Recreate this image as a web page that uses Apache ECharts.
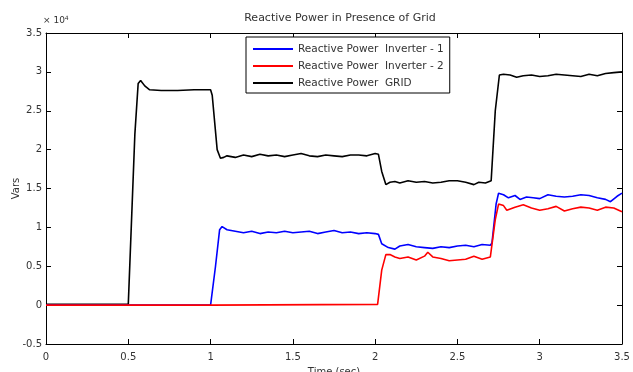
<!DOCTYPE html>
<html>
<head>
<meta charset="utf-8">
<script src="https://cdn.jsdelivr.net/npm/echarts@6/dist/echarts.min.js"></script>
<style>
  html, body { margin: 0; padding: 0; background: #fff; }
  #main { width: 633px; height: 372px; }
</style>
</head>
<body>
<div id="main"></div>
<script>
// values are in units of 10^4 Vars
var gridTime = [0, 0.1, 0.2, 0.3, 0.4, 0.5, 0.51, 0.54, 0.56, 0.575, 0.6, 0.63, 0.7, 0.8, 0.9, 1.0,
  1.01, 1.04, 1.06, 1.08, 1.1, 1.15, 1.2, 1.25, 1.3, 1.35, 1.4, 1.45, 1.5, 1.55, 1.6, 1.65, 1.7, 1.75,
  1.8, 1.85, 1.9, 1.95, 2.0, 2.02, 2.04, 2.065, 2.09, 2.12, 2.15, 2.2, 2.25, 2.3, 2.35, 2.4, 2.45, 2.5,
  2.55, 2.6, 2.63, 2.67, 2.705, 2.73, 2.755, 2.78, 2.82, 2.86, 2.9, 2.95, 3.0, 3.05, 3.1, 3.15, 3.2,
  3.25, 3.3, 3.35, 3.4, 3.45, 3.5];
var gridVars = [0.01, 0.01, 0.01, 0.01, 0.01, 0.01, 0.02, 2.2, 2.85, 2.89, 2.82, 2.77, 2.76, 2.76, 2.77, 2.77,
  2.7, 2.0, 1.89, 1.9, 1.92, 1.9, 1.93, 1.91, 1.94, 1.92, 1.93, 1.91, 1.93, 1.95, 1.92, 1.91, 1.93, 1.92,
  1.91, 1.93, 1.93, 1.92, 1.95, 1.94, 1.72, 1.55, 1.58, 1.59, 1.57, 1.6, 1.58, 1.59, 1.57, 1.58, 1.6, 1.6,
  1.58, 1.55, 1.58, 1.57, 1.6, 2.5, 2.96, 2.97, 2.96, 2.93, 2.95, 2.96, 2.94, 2.95, 2.97, 2.96, 2.95,
  2.94, 2.97, 2.95, 2.98, 2.99, 3.0];

var inv1Time = [0, 0.5, 1.0, 1.005, 1.03, 1.055, 1.07, 1.1, 1.15, 1.2, 1.25, 1.3, 1.35, 1.4, 1.45, 1.5,
  1.55, 1.6, 1.65, 1.7, 1.75, 1.8, 1.85, 1.9, 1.95, 2.0, 2.02, 2.04, 2.08, 2.12, 2.15, 2.2, 2.25, 2.3,
  2.35, 2.4, 2.45, 2.5, 2.55, 2.6, 2.65, 2.7, 2.71, 2.735, 2.75, 2.78, 2.81, 2.85, 2.88, 2.92, 2.96,
  3.0, 3.05, 3.1, 3.15, 3.2, 3.25, 3.3, 3.35, 3.4, 3.43, 3.47, 3.5];
var inv1Vars = [0, 0, 0, 0.01, 0.5, 0.97, 1.01, 0.97, 0.95, 0.93, 0.95, 0.92, 0.94, 0.93, 0.95, 0.93,
  0.94, 0.95, 0.92, 0.94, 0.96, 0.93, 0.94, 0.92, 0.93, 0.92, 0.91, 0.79, 0.74, 0.72, 0.76, 0.78, 0.75, 0.74,
  0.73, 0.75, 0.74, 0.76, 0.77, 0.75, 0.78, 0.77, 0.8, 1.3, 1.44, 1.42, 1.38, 1.41, 1.36, 1.39, 1.38,
  1.37, 1.42, 1.4, 1.39, 1.4, 1.42, 1.41, 1.38, 1.36, 1.33, 1.4, 1.44];

var inv2Time = [0, 1.0, 2.015, 2.04, 2.065, 2.09, 2.12, 2.15, 2.2, 2.25, 2.3, 2.32, 2.35, 2.4, 2.45,
  2.5, 2.55, 2.6, 2.65, 2.7, 2.71, 2.73, 2.75, 2.78, 2.8, 2.85, 2.9, 2.95, 3.0, 3.05, 3.1, 3.15, 3.2,
  3.25, 3.3, 3.35, 3.4, 3.45, 3.5];
var inv2Vars = [0, 0, 0.01, 0.45, 0.65, 0.65, 0.62, 0.6, 0.62, 0.58, 0.63, 0.68, 0.62, 0.6, 0.57,
  0.58, 0.59, 0.63, 0.59, 0.62, 0.64, 1.1, 1.3, 1.28, 1.22, 1.26, 1.29, 1.25, 1.22, 1.24, 1.27, 1.21, 1.24,
  1.26, 1.25, 1.22, 1.26, 1.25, 1.2];

var seriesNames = ['Reactive Power  Inverter - 1', 'Reactive Power  Inverter - 2', 'Reactive Power  GRID'];
var seriesColors = ['#0000ff', '#ff0000', '#000000'];

function pairs(t, v) {
  var out = [];
  for (var i = 0; i < t.length; i++) out.push([t[i], v[i]]);
  return out;
}

var chart = echarts.init(document.getElementById('main'));
var font = 'DejaVu Sans, Liberation Sans, sans-serif';
var textColor = '#333';

var option = {
  backgroundColor: '#fff',
  animation: false,
  title: [{
    text: 'Reactive Power in Presence of Grid',
    left: 335, top: 8, textAlign: 'center',
    textStyle: { fontSize: 11, fontWeight: 'normal', color: textColor, fontFamily: font }
  }, {
    text: '× 10{s|4}',
    left: 38, top: 10,
    textStyle: {
      fontSize: 9, fontWeight: 'normal', color: textColor, fontFamily: font,
      rich: { s: { fontSize: 6, verticalAlign: 'top', padding: [0, 0, 6, 0], color: textColor } }
    }
  }],
  legend: {
    orient: 'vertical',
    left: 246, top: 37,
    padding: [6, 6, 4, 7],
    itemGap: 5,
    itemWidth: 40, itemHeight: 2,
    icon: 'rect',
    backgroundColor: '#fff',
    borderColor: '#000', borderWidth: 1,
    textStyle: { fontSize: 10.5, lineHeight: 12, color: textColor, fontFamily: font },
    data: seriesNames
  },
  grid: { left: 46, right: 11, top: 33, bottom: 28, outerBoundsMode: 'none' },
  xAxis: [{
    type: 'value', min: 0, max: 3.5, interval: 0.5,
    name: 'Time (sec)', nameLocation: 'middle', nameGap: 23, nameMoveOverlap: false,
    nameTextStyle: { fontSize: 10, color: textColor, fontFamily: font },
    axisLine: { onZero: false, lineStyle: { color: '#000', width: 1 } },
    axisTick: { inside: true, length: 5, lineStyle: { color: '#000' } },
    axisLabel: { fontSize: 10, color: textColor, fontFamily: font, margin: 8 },
    splitLine: { show: false }
  }, {
    type: 'value', min: 0, max: 3.5, interval: 0.5, position: 'top',
    axisLine: { onZero: false, lineStyle: { color: '#000', width: 1 } },
    axisTick: { inside: true, length: 5, lineStyle: { color: '#000' } },
    axisLabel: { show: false },
    splitLine: { show: false }
  }],
  yAxis: [{
    type: 'value', min: -0.5, max: 3.5, interval: 0.5,
    name: 'Vars', nameLocation: 'middle', nameGap: 25, nameMoveOverlap: false,
    nameTextStyle: { fontSize: 10, color: textColor, fontFamily: font },
    axisLine: { show: true, onZero: false, lineStyle: { color: '#000', width: 1 } },
    axisTick: { show: true, inside: true, length: 5, lineStyle: { color: '#000' } },
    axisLabel: { fontSize: 10, color: textColor, fontFamily: font, margin: 4 },
    splitLine: { show: false }
  }, {
    type: 'value', min: -0.5, max: 3.5, interval: 0.5, position: 'right',
    axisLine: { show: true, onZero: false, lineStyle: { color: '#000', width: 1 } },
    axisTick: { show: true, inside: true, length: 5, lineStyle: { color: '#000' } },
    axisLabel: { show: false },
    splitLine: { show: false }
  }],
  series: [{
    name: seriesNames[0], type: 'line', symbol: 'none', z: 3,
    data: pairs(inv1Time, inv1Vars),
    lineStyle: { color: seriesColors[0], width: 1.6 },
    itemStyle: { color: seriesColors[0] }
  }, {
    name: seriesNames[1], type: 'line', symbol: 'none', z: 4,
    data: pairs(inv2Time, inv2Vars),
    lineStyle: { color: seriesColors[1], width: 1.6 },
    itemStyle: { color: seriesColors[1] }
  }, {
    name: seriesNames[2], type: 'line', symbol: 'none', z: 2,
    data: pairs(gridTime, gridVars),
    lineStyle: { color: seriesColors[2], width: 1.6 },
    itemStyle: { color: seriesColors[2] }
  }]
};

chart.setOption(option);
window.onresize = function () { chart.resize(); };
</script>
</body>
</html>
